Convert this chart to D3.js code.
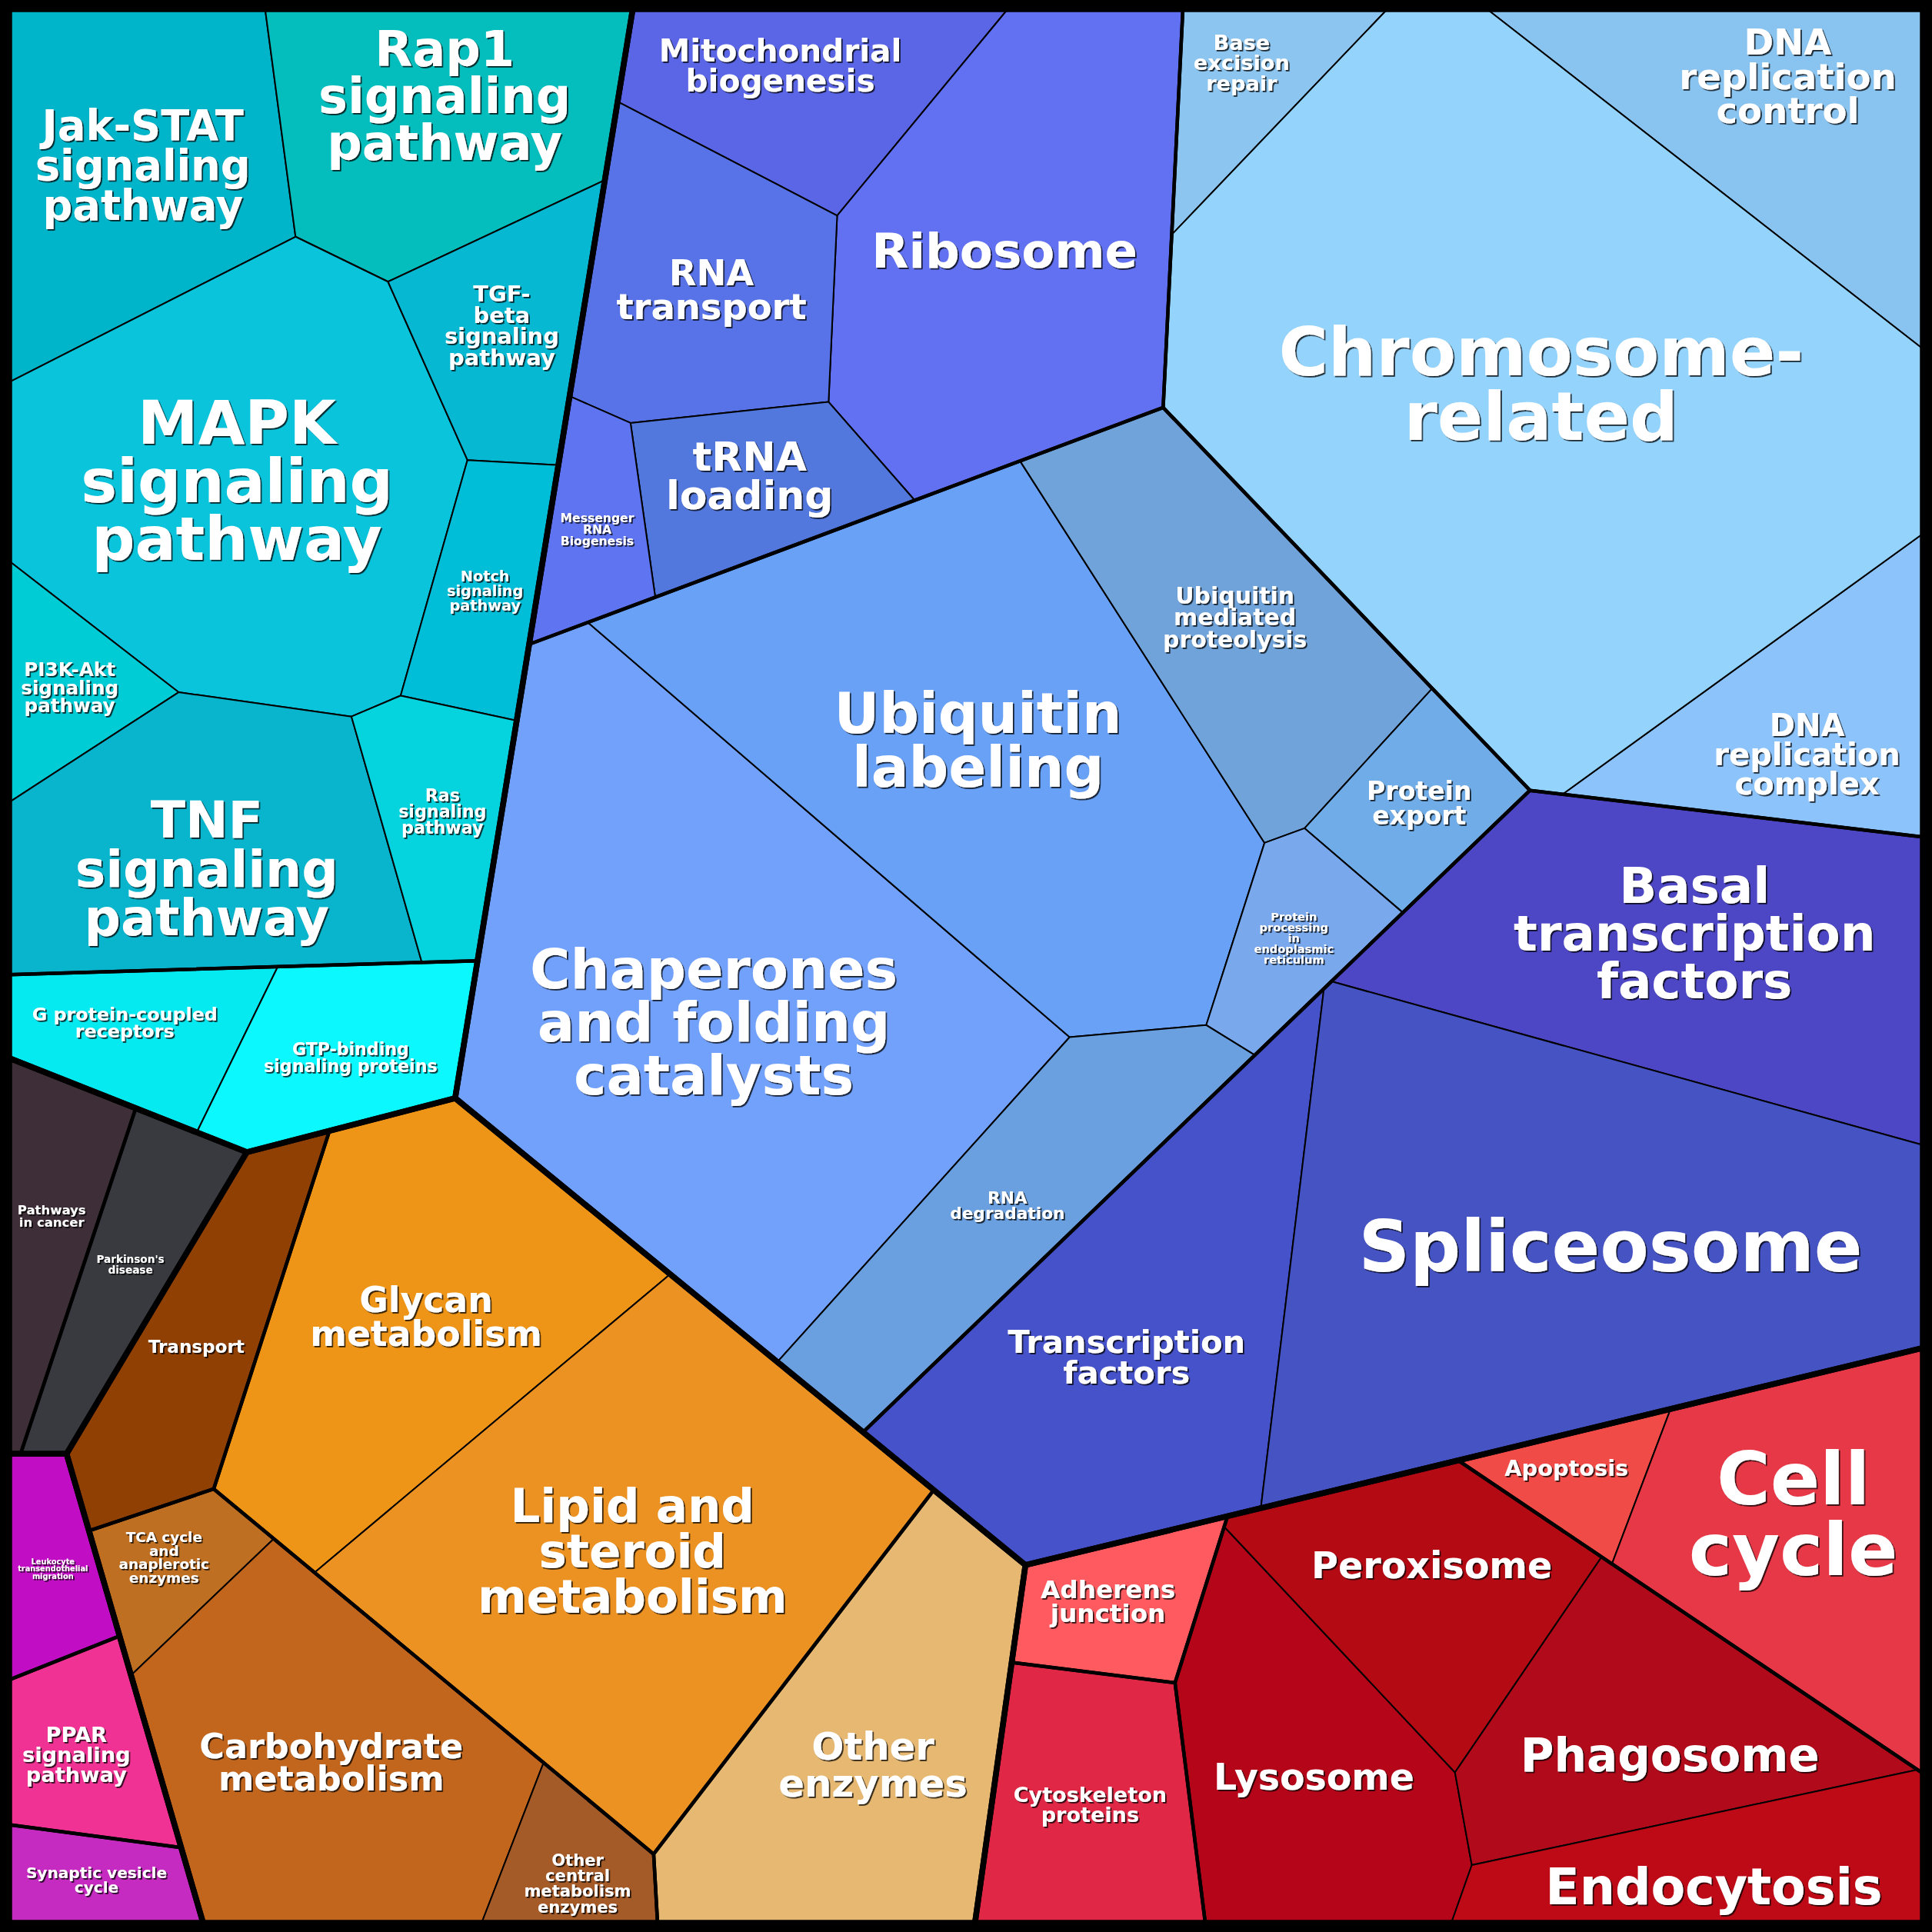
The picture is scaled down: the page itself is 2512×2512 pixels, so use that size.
<!DOCTYPE html>
<html><head><meta charset="utf-8">
<script src="https://cdn.jsdelivr.net/npm/d3@7"></script>
<style>html,body{margin:0;padding:0;background:#fff} svg{display:block}</style>
</head><body>
<svg id="chart" width="2512" height="2512"></svg>
<script>
// ---------------- DATA ----------------
const labels = [
 "Jak-STAT\nsignaling\npathway","Rap1\nsignaling\npathway","MAPK\nsignaling\npathway","TGF-\nbeta\nsignaling\npathway",
 "Notch\nsignaling\npathway","PI3K-Akt\nsignaling\npathway","TNF\nsignaling\npathway","Ras\nsignaling\npathway",
 "G protein-coupled\nreceptors","GTP-binding\nsignaling proteins",
 "Mitochondrial\nbiogenesis","Ribosome","RNA\ntransport","tRNA\nloading","Messenger\nRNA\nBiogenesis",
 "Base\nexcision\nrepair","DNA\nreplication\ncontrol","DNA\nreplication\ncomplex","Chromosome-\nrelated",
 "Chaperones\nand folding\ncatalysts","Ubiquitin\nlabeling","Ubiquitin\nmediated\nproteolysis","Protein\nexport",
 "Protein\nprocessing\nin\nendoplasmic\nreticulum","RNA\ndegradation",
 "Basal\ntranscription\nfactors","Transcription\nfactors","Spliceosome",
 "Adherens\njunction","Cytoskeleton\nproteins","Lysosome","Peroxisome","Phagosome","Endocytosis","Apoptosis","Cell\ncycle",
 "Transport","TCA cycle\nand\nanaplerotic\nenzymes","Carbohydrate\nmetabolism","Other\ncentral\nmetabolism\nenzymes",
 "Glycan\nmetabolism","Lipid and\nsteroid\nmetabolism","Other\nenzymes",
 "Pathways\nin cancer","Parkinson's\ndisease",
 "Leukocyte\ntransendothelial\nmigration","PPAR\nsignaling\npathway","Synaptic vesicle\ncycle"
];
const values = [
 54.1, 50.5, 104.4, 23.9, 17.2, 13.4, 60.5, 18.8, 19.5, 24.3,
 32.6, 86.8, 41.0, 22.6, 12.9,
 15.1, 48.5, 35.8, 247.0,
 161.0, 132.2, 52.5, 16.2, 14.9, 42.6,
 87.4, 82.6, 151.1,
 15.5, 32.3, 50.0, 39.4, 46.6, 31.7, 9.8, 55.0,
 29.0, 11.5, 68.6, 11.6, 74.6, 117.3, 63.8,
 17.7, 18.8,
 11.6, 16.7, 10.3
];
const level1Names = ["Environmental Information Processing","Genetic Information Processing","Cellular Processes",
 "Metabolism","Human Diseases","Organismal Systems"];
const level2Names = ["Signal transduction","Signaling molecules and interaction","Translation","Replication and repair",
 "Folding, sorting and degradation","Transcription","Cell communication","Cell motility","Transport and catabolism",
 "Cell growth and death","Transport","Central carbon metabolism","Lipid and glycan metabolism","Other enzymes",
 "Cancers","Neurodegenerative diseases","Immune system","Endocrine system","Nervous system"];
const level1Of = [0,0,0,0,0,0,0,0,0,0, 1,1,1,1,1, 1,1,1,1, 1,1,1,1,1,1, 1,1,1, 2,2,2,2,2,2,2,2, 3,3,3,3,3,3,3, 4,4, 5,5,5];
const level2Of = [0,0,0,0,0,0,0,0,1,1, 2,2,2,2,2, 3,3,3,3, 4,4,4,4,4,4, 5,5,5, 6,7,8,8,8,8,9,9, 10,11,11,11,12,12,13, 14,15, 16,17,18];

// generator sites of the power diagram (percent of the square)
const leafSiteX = [
 3.63, 20.17, 11.53, 25.56, 25.00, 0.32, 7.86, 21.02, 5.28, 15.28,
 40.92, 51.80, 36.62, 37.98, 30.52,
 63.75, 91.37, 92.54, 79.70,
 38.21, 50.71, 62.55, 71.38, 67.25, 53.19,
 88.18, 59.54, 83.57,
 58.38, 57.35, 57.96, 72.11, 84.54, 87.84, 82.02, 92.27,
 7.82, 7.23, 17.65, 29.60, 22.04, 31.96, 45.49,
 1.93, 6.40,
 1.26, 4.64, 3.75
];
const leafSiteY = [
 9.71, 7.50, 25.26, 19.01, 29.08, 39.74, 51.35, 47.58, 53.93, 58.82,
 4.15, 13.14, 12.44, 25.24, 26.30,
 4.85, 5.13, 37.86, 20.10,
 53.31, 38.79, 31.21, 39.27, 44.08, 66.79,
 47.57, 61.32, 64.24,
 85.18, 93.43, 95.17, 81.88, 90.34, 105.75, 76.55, 80.43,
 69.05, 82.66, 93.56, 98.18, 69.72, 81.54, 89.10,
 64.24, 65.73,
 82.47, 90.98, 97.71
];
const level2SiteX = [13.92, 14.82, 36.02, 76.22, 47.16, 70.10, 58.38, 57.35, 76.80, 89.95, 7.82, 15.14, 27.84, 45.49, 1.93, 6.40, 1.26, 4.64, 3.75];
const level2SiteY = [24.20, 54.70, 14.76, 16.75, 44.59, 68.43, 85.18, 93.43, 90.98, 71.46, 69.05, 90.82, 75.52, 89.10, 64.24, 65.73, 82.47, 90.98, 97.71];
const level1SiteX = [13.71, 64.42, 77.00, 27.55, -0.72, -0.72];
const level1SiteY = [29.23, 37.50, 89.50, 82.53, 65.64, 90.76];

// palette (style)
const palette = [
 "#00B4C9","#04BEBE","#0AC4DC","#06B8D2","#00BED8","#00CCD6","#08B5CD","#05D4DF","#05E9F0","#0AF8FE",
 "#5A66E6","#6271F1","#5873E7","#5278DE","#5F74F1",
 "#8CC6F0","#89C3EF","#8CC3FA","#94D3FC",
 "#72A1FB","#68A1F6","#70A3D9","#70ADE8","#79A9EC","#6AA0E0",
 "#4D47C6","#4652CA","#4553C3",
 "#FF5A5F","#E12746","#B40618","#B30A14","#B10A1B","#BE0A16","#F14B48","#E63846",
 "#904003","#BE6F22","#C2661E","#A55B28","#EE9417","#EC9222","#E6B872",
 "#3E2E37","#393A40",
 "#C10DC4","#F03294","#C52BC0"
];

// ---------------- LAYOUT ----------------
const W = 2512, H = 2512, M = 12;
const sx = d3.scaleLinear().domain([0, 100]).range([M, W - M]);
const sy = d3.scaleLinear().domain([0, 100]).range([M, H - M]);
const color = d3.scaleOrdinal().domain(labels).range(palette);

const leaves = labels.map((name, i) => ({name, value: values[i], idx: i,
  l1: level1Names[level1Of[i]], l2: level2Names[level2Of[i]]}));
const root = d3.hierarchy({name: "root", children:
  d3.groups(leaves, d => d.l1).map(([g, arr]) => ({name: g, children:
    d3.groups(arr, d => d.l2).map(([s, a2]) => ({name: s, children: a2}))}))
}, d => d.children).sum(d => d.children ? 0 : d.value);

root.each(n => {
  if (n.depth === 3) n.site = [sx(leafSiteX[n.data.idx]), sy(leafSiteY[n.data.idx])];
  else if (n.depth === 2) { const k = level2Names.indexOf(n.data.name); n.site = [sx(level2SiteX[k]), sy(level2SiteY[k])]; }
  else if (n.depth === 1) { const k = level1Names.indexOf(n.data.name); n.site = [sx(level1SiteX[k]), sy(level1SiteY[k])]; }
});

function clipHalf(poly, a, b, c) {
  const out = [];
  for (let i = 0; i < poly.length; i++) {
    const P = poly[i], Q = poly[(i + 1) % poly.length];
    const fp = a * P[0] + b * P[1] - c, fq = a * Q[0] + b * Q[1] - c;
    if (fp <= 0) out.push(P);
    if ((fp < 0 && fq > 0) || (fp > 0 && fq < 0)) {
      const t = fp / (fp - fq);
      out.push([P[0] + t * (Q[0] - P[0]), P[1] + t * (Q[1] - P[1])]);
    }
  }
  return out;
}
function powerCells(S, w, boundary) {
  return S.map((s, i) => {
    let poly = boundary.slice();
    for (let j = 0; j < S.length && poly.length > 2; j++) {
      if (j === i) continue;
      const t = S[j];
      const a = 2 * (t[0] - s[0]), b = 2 * (t[1] - s[1]);
      const c = (t[0] * t[0] + t[1] * t[1]) - (s[0] * s[0] + s[1] * s[1]) - w[j] + w[i];
      poly = clipHalf(poly, a, b, c);
    }
    return poly.length > 2 ? poly : [];
  });
}
function solve(S, targets, boundary) {
  const n = S.length;
  if (n === 1) return [boundary.slice()];
  const total = Math.abs(d3.polygonArea(boundary));
  const sumT = d3.sum(targets);
  const T = targets.map(t => t / sumT * total);
  let w = new Array(n).fill(0);
  let alpha = 0.5, prevErr = Infinity;
  for (let it = 0; it < 8000; it++) {
    const cells = powerCells(S, w, boundary);
    const A = cells.map(c => c.length > 2 ? Math.abs(d3.polygonArea(c)) : 0);
    let err = 0, maxRel = 0;
    for (let i = 0; i < n; i++) { err += (T[i] - A[i]) ** 2; maxRel = Math.max(maxRel, Math.abs(T[i] - A[i]) / T[i]); }
    if (maxRel < 0.0005) break;
    if (err > prevErr) alpha *= 0.7; else alpha = Math.min(alpha * 1.03, 1.0);
    prevErr = err;
    for (let i = 0; i < n; i++) w[i] += alpha * (T[i] - A[i]);
  }
  return powerCells(S, w, boundary);
}

root.polygon = [[M, M], [W - M, M], [W - M, H - M], [M, H - M]];
root.eachBefore(n => {
  if (!n.children) return;
  const cells = solve(n.children.map(c => c.site), n.children.map(c => c.value), n.polygon);
  n.children.forEach((c, i) => c.polygon = cells[i]);
});

// ---------------- DRAW ----------------
const svg = d3.select("#chart");
const defs = svg.append("defs");
defs.append("filter").attr("id", "sh").attr("x", "-10%").attr("y", "-10%").attr("width", "125%").attr("height", "130%")
  .append("feDropShadow").attr("dx", 1.8).attr("dy", 1.8).attr("stdDeviation", 0.7)
  .attr("flood-color", "#000").attr("flood-opacity", 0.8);

svg.append("rect").attr("width", W).attr("height", H).attr("fill", "#000");
const line = d3.line().curve(d3.curveLinearClosed);

svg.append("g").selectAll("path").data(root.leaves()).join("path")
  .attr("d", d => d.polygon.length ? line(d.polygon) : null)
  .attr("fill", d => color(d.data.name))
  .attr("stroke", "#000").attr("stroke-width", 2).attr("stroke-linejoin", "round");
svg.append("g").selectAll("path").data(root.descendants().filter(d => d.depth === 2)).join("path")
  .attr("d", d => d.polygon.length ? line(d.polygon) : null)
  .attr("fill", "none").attr("stroke", "#000").attr("stroke-width", 4.5).attr("stroke-linejoin", "round");
svg.append("g").selectAll("path").data(root.descendants().filter(d => d.depth === 1)).join("path")
  .attr("d", d => d.polygon.length ? line(d.polygon) : null)
  .attr("fill", "none").attr("stroke", "#000").attr("stroke-width", 7.5).attr("stroke-linejoin", "round");

// labels: near the cell centroid, as large as the padded text block allows
const ctx = document.createElement("canvas").getContext("2d");
ctx.font = 'bold 100px "DejaVu Sans"';
const LH = 0.96, PADW = 1.24, PADH = 1.2;
function fitFont(poly, cx, cy, w100, n, iters) {
  let lo = 0, hi = 130;
  for (let k = 0; k < iters; k++) {
    const f = (lo + hi) / 2;
    const hw = w100 * f / 100 * PADW / 2, hh = n * LH * f * PADH / 2;
    const ok = d3.polygonContains(poly, [cx - hw, cy - hh]) && d3.polygonContains(poly, [cx + hw, cy - hh]) &&
               d3.polygonContains(poly, [cx + hw, cy + hh]) && d3.polygonContains(poly, [cx - hw, cy + hh]);
    if (ok) lo = f; else hi = f;
  }
  return lo;
}
function placeLabel(poly, lines) {
  const w100 = d3.max(lines, l => ctx.measureText(l).width), n = lines.length;
  const c = d3.polygonCentroid(poly);
  const sA = Math.sqrt(Math.abs(d3.polygonArea(poly)));
  const R = 0.45 * sA;
  const score = (f, d) => f * (1 - 0.9 * d / sA);
  let best = {x: c[0], y: c[1], f: fitFont(poly, c[0], c[1], w100, n, 22)};
  best.s = score(best.f, 0);
  const consider = (px, py) => {
    const d = Math.hypot(px - c[0], py - c[1]);
    if (d > R || !d3.polygonContains(poly, [px, py])) return;
    const f = fitFont(poly, px, py, w100, n, 22), s = score(f, d);
    if (s > best.s) best = {x: px, y: py, f, s};
  };
  const N = 12;
  for (let i = -N; i <= N; i++) for (let j = -N; j <= N; j++) consider(c[0] + i * R / N, c[1] + j * R / N);
  const bx = best.x, by = best.y, st = R / N;
  for (let i = -4; i <= 4; i++) for (let j = -4; j <= 4; j++) consider(bx + i * st / 4, by + j * st / 4);
  best.f = fitFont(poly, best.x, best.y, w100, n, 30);
  return best;
}
const lab = svg.append("g").attr("font-family", '"DejaVu Sans", sans-serif').attr("font-weight", "bold")
  .attr("fill", "#fff").attr("text-anchor", "middle").attr("filter", "url(#sh)");
root.leaves().forEach(d => {
  if (!d.polygon.length) return;
  const lines = d.data.name.split("\n");
  const {x: cx, y: cy, f} = placeLabel(d.polygon, lines);
  const t = lab.append("text").attr("font-size", f.toFixed(1));
  lines.forEach((l, j) => t.append("tspan").attr("x", cx)
    .attr("y", cy + (j - (lines.length - 1) / 2) * LH * f).attr("dominant-baseline", "central").text(l));
});
</script>
</body></html>
